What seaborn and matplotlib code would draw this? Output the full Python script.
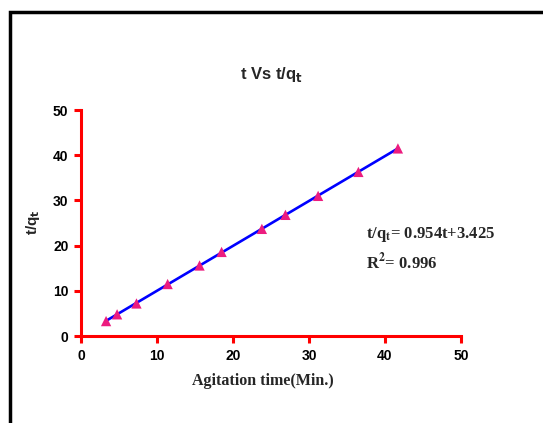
import numpy as np
import pandas as pd
import matplotlib
matplotlib.use("Agg")
import matplotlib.pyplot as plt
import seaborn as sns
from matplotlib.patches import Rectangle

# data
agitation_time = [3.3, 4.75, 7.3, 11.4, 15.6, 18.5, 23.8, 26.9, 31.2, 36.5, 41.7]
t_over_qt = [3.3, 4.8, 7.2, 11.5, 15.6, 18.6, 23.7, 26.8, 31.0, 36.3, 41.5]
tick_values = [0, 10, 20, 30, 40, 50]

df = pd.DataFrame({'t': agitation_time, 'tq': t_over_qt})

sns.set_style('white')
plt.rcParams['font.family'] = ['Liberation Sans', 'DejaVu Sans']

fig = plt.figure(figsize=(5.43, 4.23), dpi=100)
ax = fig.add_axes([81/543, 1-336/423, 380/543, 226/423])

# fitted line and the points
sns.regplot(data=df, x='t', y='tq', scatter=False, ci=None, ax=ax,
            line_kws={'color': '#0000FF', 'lw': 1.9})
sns.scatterplot(data=df, x='t', y='tq', marker='^', s=55, color='#EC1C7F',
                edgecolor='none', ax=ax, zorder=5, clip_on=False)

ax.set_xlim(0, 50)
ax.set_ylim(0, 50)
ax.set_xticks(tick_values)
ax.set_yticks(tick_values)
ax.set_xlabel('')
ax.set_ylabel('')
for s in ['top', 'right']:
    ax.spines[s].set_visible(False)
for s in ['left', 'bottom']:
    ax.spines[s].set_color('red')
    ax.spines[s].set_linewidth(2.2)
ax.tick_params(axis='both', colors='red', direction='out', length=5, width=2.2,
               labelcolor='black', labelsize=10, pad=4)
ax.tick_params(left=True, bottom=True)
for lab in ax.get_xticklabels() + ax.get_yticklabels():
    lab.set_fontweight('bold')

# titles and labels
fig.text(271/543, 1-75/423, r't Vs t/q$_\mathbf{t}$', ha='center', va='center',
         fontsize=12, fontweight='bold')
fig.text(263/543, 1-381/423, 'Agitation time(Min.)', ha='center', va='center',
         fontsize=11.5, fontweight='bold', family=['Liberation Serif'])
fig.text(33/543, 1-222/423, r't/q$_\mathbf{t}$', ha='center', va='center',
         rotation=90, fontsize=11, fontweight='bold')

# equation box
fig.text(366/543, 1-234/423, r't/q$_\mathbf{t}$= 0.954t+3.425', ha='left', va='center',
         fontsize=12, fontweight='bold', family=['Liberation Serif'], math_fontfamily='stix')
fig.text(366/543, 1-262/423, r'R$^\mathbf{2}$= 0.996', ha='left', va='center',
         fontsize=12, fontweight='bold', family=['Liberation Serif'], math_fontfamily='stix')

# black frame, running off the right and bottom edges
fig.patches.append(Rectangle((10/543, -0.1), 1.2, 1-12/423+0.1, transform=fig.transFigure,
                             fill=False, edgecolor='black', lw=2.5, zorder=10))

fig.savefig('out.png', dpi=100)
